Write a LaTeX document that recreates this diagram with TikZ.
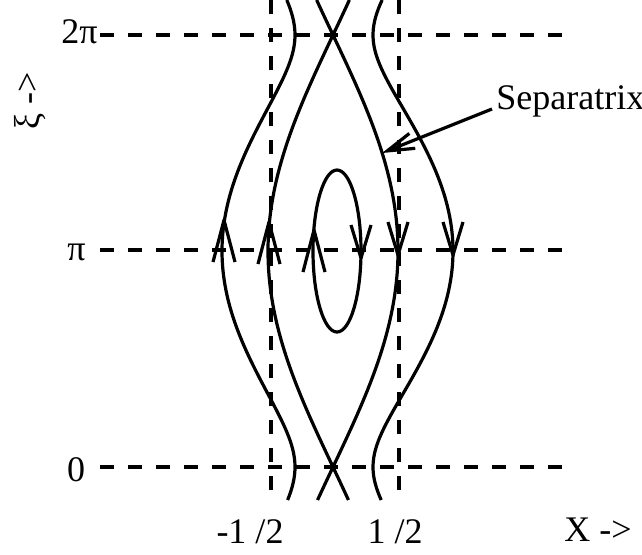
\documentclass[tikz,border=0pt]{standalone}
\usepackage{fontspec}
\setmainfont{Liberation Serif}
\usepackage{tikz}
\usetikzlibrary{arrows.meta}
\tikzset{
  guide/.style={line width=1.6pt, dash pattern=on 7pt off 7pt},
  orbit/.style={line width=1.6pt, line join=round},
  chev/.style={line width=1.6pt, line join=round},
  pointer/.style={line width=1.6pt, -{Straight Barb[length=13.5pt,width=8pt]}},
  ticklbl/.style={font=\fontsize{18}{20}\selectfont, inner sep=0pt},
}

\begin{document}
\begin{tikzpicture}[x=0.5pt, y=-0.5pt]
  \useasboundingbox (0,0) rectangle (642,554);

  %% -- guide lines -------------------------------------------------------
  \foreach \gy in {35,250,467}
    \draw[guide] (100,\gy) -- (570,\gy);
  \foreach \gx in {271,399}
    \draw[guide] (\gx,0) -- (\gx,500);

  %% -- axis labels -------------------------------------------------------
  \node[ticklbl, anchor=base east] (twopi) at (98,43)  {2π};
  \node[ticklbl, anchor=base east] (pi)    at (86,260) {π};
  \node[ticklbl, anchor=base]      (zero)  at (76,481) {0};
  \node[ticklbl, anchor=base]      (mhalf) at (250,543) {-1 /2};
  \node[ticklbl, anchor=base]      (phalf) at (395,543) {1 /2};
  \node[ticklbl, anchor=base]      (xlbl)  at (598,541) {X ->};
  \node[ticklbl, rotate=90]        (xilbl) at (30,101)  {ξ ->};

  %% -- orbits ------------------------------------------------------------
  % separatrix
  \draw[orbit] plot[domain=0:500, samples=120, variable=\t]
    ({333-65*sin((467-\t)/2.4)}, \t);
  \draw[orbit] plot[domain=0:500, samples=120, variable=\t]
    ({333+65*sin((467-\t)/2.4)}, \t);
  % passing orbits
  \draw[orbit] plot[domain=0:500, samples=120, variable=\t]
    ({333-sqrt(10877*sin((467-\t)/2.4)^2+1444)}, \t);
  \draw[orbit] plot[domain=0:500, samples=120, variable=\t]
    ({333+sqrt(12800*sin((467-\t)/2.4)^2+1600)}, \t);
  % trapped orbit
  \draw[orbit] (337,251) ellipse [x radius=24, y radius=81];

  % flow direction
  \foreach \cx/\cy in {224/220, 269/222, 314/230}
    \draw[chev] (\cx-11,\cy+42) -- (\cx,\cy) -- (\cx+11,\cy+42);
  \foreach \cx/\cy in {361/258, 398/255, 453/255}
    \draw[chev] (\cx-10,\cy-33) -- (\cx,\cy) -- (\cx+10,\cy-33);

  %% -- annotation --------------------------------------------------------
  \coordinate (sephit) at (382,153);
  \node[ticklbl, anchor=base west, inner sep=2pt] (seplbl) at (492,109) {Separatrix};
  \draw[pointer] (seplbl.base west) -- (sephit);

\end{tikzpicture}
\end{document}
